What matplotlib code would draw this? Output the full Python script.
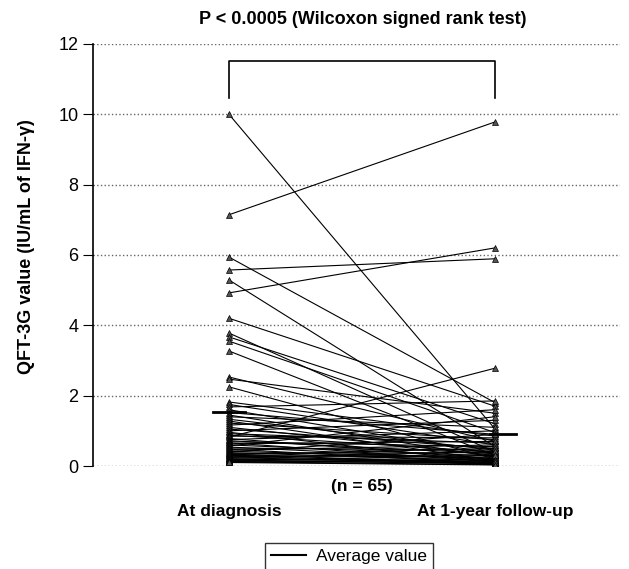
import numpy as np
import matplotlib
matplotlib.use("Agg")
import matplotlib.pyplot as plt
from matplotlib.lines import Line2D

plt.rcParams['font.family'] = ['Liberation Sans', 'DejaVu Sans']

# QFT-3G values (IU/mL) per patient, at diagnosis and at 1-year follow-up
at_diagnosis = [10.0, 7.14, 5.94, 5.57, 5.29, 4.92, 4.20, 3.78, 3.67, 3.55, 3.27, 2.53, 2.47, 2.25, 1.82,
                1.75, 1.68, 1.60, 1.52, 1.45, 1.40, 1.33, 1.28, 1.22, 1.16,
                1.10, 1.05, 1.00, 0.96, 0.92, 0.88, 0.85, 0.82, 0.78, 0.75,
                0.72, 0.69, 0.66, 0.63, 0.60, 0.57, 0.54, 0.51, 0.48, 0.45,
                0.42, 0.40, 0.38, 0.36, 0.34, 0.32, 0.30, 0.28, 0.26, 0.24,
                0.22, 0.20, 0.19, 0.17, 0.16, 0.15, 0.13, 0.12, 0.11, 0.10]
at_followup = [1.05, 9.78, 1.80, 5.89, 0.55, 6.20, 1.70, 0.40, 1.20, 0.95, 0.30, 0.70, 1.50, 0.20, 0.85,
               0.60, 1.85, 0.35, 0.90, 0.25, 1.10, 0.45, 0.15, 0.75, 1.60,
               0.30, 0.50, 1.30, 0.10, 0.65, 0.40, 0.80, 2.78, 0.20, 1.00,
               0.35, 0.55, 0.12, 0.70, 0.28, 1.40, 0.18, 0.45, 0.08, 0.60,
               0.22, 0.90, 0.15, 0.38, 0.05, 0.50, 0.25, 0.10, 0.32, 0.07,
               0.42, 0.14, 0.20, 0.06, 0.30, 0.09, 0.18, 0.04, 0.12, 0.03]
groups = ['At diagnosis', 'At 1-year follow-up']

fig = plt.figure(figsize=(6.29, 5.69), dpi=100)
ax = fig.add_axes([0.148, 0.181, 0.838, 0.742])

xs = [1, 2]
for a, b in zip(at_diagnosis, at_followup):
    ax.plot(xs, [a, b], color='black', lw=0.8, marker='^', ms=4,
            mfc='#555555', mec='black', mew=0.5)

# average values
m1 = np.mean(at_diagnosis)
m2 = np.mean(at_followup)
ax.plot([0.94, 1.06], [m1, m1], color='black', lw=2)
ax.plot([1.98, 2.08], [m2, m2], color='black', lw=2)

# significance bracket
ax.plot([1, 1, 2, 2], [10.45, 11.5, 11.5, 10.45], color='black', lw=1.2)

ax.set_xlim(0.49, 2.47)
ax.set_ylim(0, 12)
ax.set_yticks(range(0, 13, 2))
ax.yaxis.grid(True, linestyle=':', color='#666666', lw=1)
ax.set_axisbelow(True)
ax.set_xticks([])
for s in ['top', 'right', 'bottom']:
    ax.spines[s].set_visible(False)
ax.spines['left'].set_linewidth(1.2)
ax.tick_params(axis='y', direction='out', length=7, labelsize=13)
ax.set_ylabel('QFT-3G value (IU/mL of IFN-γ)', fontsize=13, fontweight='bold')
ax.yaxis.set_label_coords(-0.11, 0.52)

fig.text(0.577, 1 - 20 / 569, 'P < 0.0005 (Wilcoxon signed rank test)',
         ha='center', va='center', fontsize=13, fontweight='bold')

for x, g in zip(xs, groups):
    ax.text(x, -1.3, g, ha='center', va='center', fontsize=12.5, fontweight='bold')
ax.text(1.5, -0.57, '(n = 65)', ha='center', va='center', fontsize=12.5, fontweight='bold')

handle = Line2D([0], [0], color='black', lw=1.5)
fig.legend([handle], ['Average value'], loc='center', bbox_to_anchor=(0.555, 0.022),
           frameon=True, fancybox=False, edgecolor='black', fontsize=12.5,
           handlelength=2.0, handletextpad=0.6, borderpad=0.35)

fig.savefig('out.png', dpi=100)
